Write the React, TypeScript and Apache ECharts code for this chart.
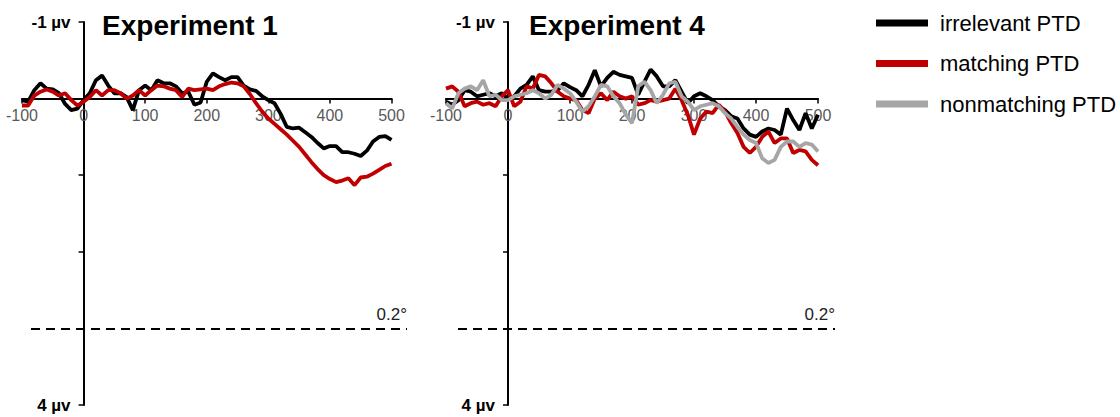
import React, { useEffect, useRef } from "react";
import * as echarts from "echarts";

// time points (ms)
const TIME_MS = [
  -100, -90, -80, -70, -60, -50, -40, -30, -20, -10,
  0, 10, 20, 30, 40, 50, 60, 70, 80, 90,
  100, 110, 120, 130, 140, 150, 160, 170, 180, 190,
  200, 210, 220, 230, 240, 250, 260, 270, 280, 290,
  300, 310, 320, 330, 340, 350, 360, 370, 380, 390,
  400, 410, 420, 430, 440, 450, 460, 470, 480, 490,
  500,
];

const X_MIN = -100;
const X_MAX = 500;
const X_STEP = 100;
const Y_MIN = -1;
const Y_MAX = 4;
const Y_STEP = 1;
const Y_LABELS: Record<string, string> = { "-1": "-1 µv", "4": "4 µv" };
const SERIES_NAMES = ["irrelevant PTD", "matching PTD", "nonmatching PTD"];
const PANEL_TITLES = ["Experiment 1", "Experiment 4"];

// Experiment 1 (µV, positive down)
const EXP1_IRRELEVANT = [
  0.02, 0.04, -0.11, -0.2, -0.13, -0.12, -0.07, 0.07, 0.15, 0.13,
  0.02, -0.07, -0.24, -0.3, -0.17, -0.07, -0.07, -0.02, 0.15, -0.11,
  -0.17, -0.11, -0.24, -0.2, -0.2, -0.16, -0.07, -0.09, 0.08, 0.05,
  -0.22, -0.33, -0.28, -0.24, -0.28, -0.28, -0.17, -0.12, -0.1, -0.03,
  0.02, 0.06, 0.2, 0.37, 0.39, 0.38, 0.44, 0.5, 0.58, 0.65,
  0.62, 0.62, 0.7, 0.7, 0.72, 0.75, 0.68, 0.56, 0.5, 0.49,
  0.54,
];
const EXP1_MATCHING = [
  0.09, 0.09, -0.04, -0.09, -0.12, -0.09, -0.04, -0.07, 0.02, 0.09,
  0.04, -0.02, -0.11, -0.04, -0.11, -0.11, -0.07, 0.0, -0.04, -0.11,
  -0.04, -0.11, -0.17, -0.16, -0.13, -0.11, -0.02, -0.13, -0.11, -0.12,
  -0.13, -0.11, -0.16, -0.19, -0.21, -0.2, -0.16, -0.06, 0.06, 0.17,
  0.26, 0.33, 0.4, 0.47, 0.55, 0.63, 0.73, 0.83, 0.92, 1.0,
  1.05, 1.09, 1.07, 1.04, 1.13, 1.03, 1.02, 0.98, 0.93, 0.88,
  0.85,
];

// Experiment 4
const EXP4_IRRELEVANT = [
  0.04, 0.08, 0.02, -0.11, -0.09, -0.03, -0.05, -0.07, -0.03, -0.07,
  0.0, -0.03, -0.13, -0.18, -0.29, -0.11, -0.09, -0.09, -0.11, -0.2,
  -0.15, -0.11, -0.03, -0.18, -0.37, -0.16, -0.27, -0.35, -0.31, -0.29,
  -0.27, -0.05, -0.22, -0.38, -0.29, -0.16, -0.16, -0.24, -0.09, 0.06,
  -0.03, -0.07, -0.03, 0.02, 0.1, 0.15, 0.23, 0.26, 0.39, 0.47,
  0.5, 0.43, 0.39, 0.41, 0.47, 0.13, 0.28, 0.41, 0.19, 0.39,
  0.21,
];
const EXP4_MATCHING = [
  -0.13, -0.16, -0.09, 0.1, 0.06, 0.04, 0.08, 0.06, 0.1, -0.03,
  -0.11, 0.1, 0.04, -0.16, -0.13, -0.31, -0.29, -0.2, -0.09, -0.03,
  0.0, 0.02, 0.15, 0.19, 0.0, -0.07, 0.02, -0.09, -0.03, 0.0,
  -0.03, 0.08, 0.06, 0.02, 0.04, 0.02, 0.0, -0.13, 0.02, 0.21,
  0.47, 0.26, 0.17, 0.19, 0.08, 0.17, 0.32, 0.45, 0.63, 0.71,
  0.63, 0.5, 0.43, 0.58, 0.52, 0.52, 0.71, 0.67, 0.69, 0.8,
  0.87,
];
const EXP4_NONMATCHING = [
  0.06, 0.13, -0.07, -0.13, -0.16, -0.11, -0.24, -0.03, -0.05, 0.02,
  0.02, -0.03, -0.05, -0.07, -0.11, -0.07, 0.0, -0.05, -0.18, -0.13,
  -0.07, 0.04, 0.17, 0.1, -0.03, -0.18, -0.16, -0.03, 0.06, 0.21,
  0.32, -0.16, -0.22, -0.11, 0.06, -0.05, -0.2, -0.22, -0.03, 0.04,
  0.15, 0.1, 0.08, 0.06, 0.1, 0.19, 0.26, 0.37, 0.47, 0.54,
  0.58, 0.78, 0.84, 0.8, 0.63, 0.56, 0.56, 0.63, 0.58, 0.6,
  0.69,
];

const REF_LEVEL = 3; // dashed reference level (µV)
const REF_LABEL = "0.2°";
const COLORS = ["#000000", "#c00000", "#a6a6a6"];
const FONT = "'Liberation Sans', Arial, sans-serif";

const pairs = (vals: number[]) => TIME_MS.map((t, i) => [t, vals[i]]);

export default function App() {
  const ref = useRef<HTMLDivElement>(null);
  useEffect(() => {
    if (!ref.current) return;
    const chart = echarts.init(ref.current, undefined, { renderer: "svg" });

    const panels = [
      { left: 22, top: 22, width: 369.5, height: 383 },
      { left: 446, top: 22, width: 372, height: 383 },
    ];
    const overlays = [
      { left: 31, top: 22, width: 376, height: 383 },
      { left: 458, top: 22, width: 377, height: 383 },
    ];
    const grids = [...panels, ...overlays].map((g) => ({ ...g, outerBoundsMode: "none" }));

    // place the axes through the origin (0 ms, 0 µV) of each panel
    const mainX = (gi: number) => ({
      type: "value",
      gridIndex: gi,
      min: X_MIN,
      max: X_MAX,
      interval: X_STEP,
      position: "bottom",
      offset: -(panels[gi].height * (Y_MAX - 0)) / (Y_MAX - Y_MIN),
      axisLine: { onZero: false, lineStyle: { color: "#000", width: 2 } },
      axisTick: { show: true, inside: false, length: 5, lineStyle: { color: "#000", width: 1.5 } },
      axisLabel: {
        color: "#595959",
        fontSize: 16,
        fontFamily: FONT,
        margin: 9,
        showMinLabel: true,
        showMaxLabel: true,
      },
      splitLine: { show: false },
    });
    const mainY = (gi: number) => ({
      type: "value",
      gridIndex: gi,
      min: Y_MIN,
      max: Y_MAX,
      interval: Y_STEP,
      inverse: true,
      position: "left",
      offset: -(panels[gi].width * (0 - X_MIN)) / (X_MAX - X_MIN),
      axisLine: { show: true, onZero: false, lineStyle: { color: "#000", width: 2 } },
      axisTick: { show: true, inside: false, length: 5, lineStyle: { color: "#000", width: 1.5 } },
      axisLabel: {
        fontSize: 17,
        fontWeight: "bold",
        fontFamily: FONT,
        color: "#000",
        margin: 13,
        showMinLabel: true,
        showMaxLabel: true,
        formatter: (v: number) => Y_LABELS[String(v)] || "",
      },
      splitLine: { show: false },
    });
    const hiddenX = (gi: number) => ({ type: "value", gridIndex: gi, min: 0, max: 1, show: false });
    const hiddenY = (gi: number) => ({
      type: "value",
      gridIndex: gi,
      min: Y_MIN,
      max: Y_MAX,
      inverse: true,
      show: false,
    });

    const line = (name: string, color: string, xi: number, vals: number[]) => ({
      name,
      type: "line",
      xAxisIndex: xi,
      yAxisIndex: xi,
      data: pairs(vals),
      showSymbol: false,
      symbol: "none",
      lineStyle: { color, width: 3.8 },
      itemStyle: { color },
      z: 3,
    });

    const refLine = (xi: number) => ({
      type: "line",
      xAxisIndex: xi,
      yAxisIndex: xi,
      data: [],
      silent: true,
      markLine: {
        silent: true,
        symbol: "none",
        animation: false,
        lineStyle: { color: "#000", type: [9, 6], width: 1.8 },
        label: {
          show: true,
          position: "insideEndTop",
          formatter: REF_LABEL,
          color: "#222",
          fontSize: 17,
          fontFamily: FONT,
          distance: [0, 5],
        },
        data: [{ yAxis: REF_LEVEL }],
      },
    });

    chart.setOption({
      animation: false,
      backgroundColor: "#ffffff",
      grid: grids,
      xAxis: [mainX(0), mainX(1), hiddenX(2), hiddenX(3)],
      yAxis: [mainY(0), mainY(1), hiddenY(2), hiddenY(3)],
      title: [
        {
          text: PANEL_TITLES[0],
          left: 185,
          top: 6,
          textAlign: "center",
          textStyle: { fontSize: 28, fontWeight: "bold", fontFamily: FONT, color: "#000" },
        },
        {
          text: PANEL_TITLES[1],
          left: 612,
          top: 6,
          textAlign: "center",
          textStyle: { fontSize: 28, fontWeight: "bold", fontFamily: FONT, color: "#000" },
        },
      ],
      legend: {
        orient: "vertical",
        left: 871,
        top: 7,
        itemWidth: 52,
        itemHeight: 7,
        itemGap: 18.5,
        icon: "rect",
        data: SERIES_NAMES,
        textStyle: { fontSize: 22, fontFamily: FONT, color: "#000", padding: [0, 0, 0, 7] },
      },
      series: [
        refLine(2),
        refLine(3),
        line(SERIES_NAMES[0], COLORS[0], 0, EXP1_IRRELEVANT),
        line(SERIES_NAMES[1], COLORS[1], 0, EXP1_MATCHING),
        line(SERIES_NAMES[0], COLORS[0], 1, EXP4_IRRELEVANT),
        line(SERIES_NAMES[1], COLORS[1], 1, EXP4_MATCHING),
        line(SERIES_NAMES[2], COLORS[2], 1, EXP4_NONMATCHING),
      ],
    });
    return () => chart.dispose();
  }, []);

  return (
    <div
      ref={ref}
      style={{ position: "absolute", left: 0, top: 0, width: 1120, height: 417, background: "#fff" }}
    />
  );
}
